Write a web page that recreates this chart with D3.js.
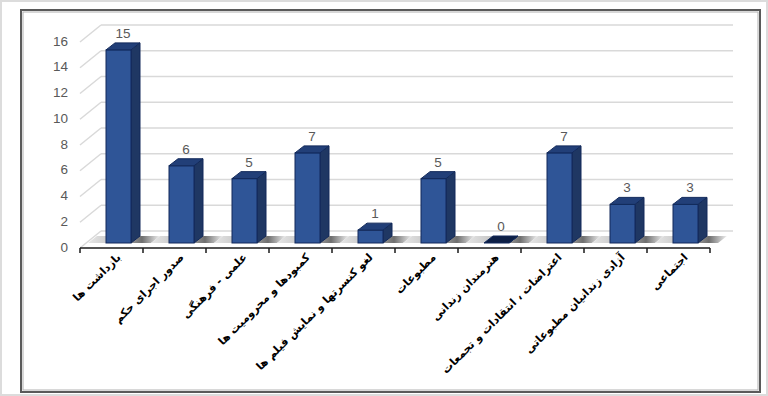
<!DOCTYPE html>
<html>
<head>
<meta charset="utf-8">
<script src="https://cdn.jsdelivr.net/npm/d3@7"></script>
<style>
  body { margin: 0; background: #fff; }
  svg { display: block; }
  .tick-label { font-family: "Liberation Sans", Arial, sans-serif; font-size: 13.5px; fill: #595959; }
  .value-label { font-family: "Liberation Sans", Arial, sans-serif; font-size: 13.5px; fill: #595959; }
  .cat-label { font-family: "DejaVu Sans", Tahoma, sans-serif; font-size: 11px; font-weight: bold; fill: #000; }
</style>
</head>
<body>
<div id="chart"></div>
<script>
var categories = [
  "بازداشت ها",
  "صدور اجرای حکم",
  "علمی - فرهنگی",
  "کمبودها و محرومیت ها",
  "لغو کنسرتها و نمایش فیلم ها",
  "مطبوعات",
  "هنرمندان زندانی",
  "اعتراضات ، انتقادات و تجمعات",
  "آزادی زندانیان مطبوعاتی",
  "اجتماعی"
];
var values = [15, 6, 5, 7, 1, 5, 0, 7, 3, 3];
var yTicks = [0, 2, 4, 6, 8, 10, 12, 14, 16];

var W = 768, H = 396;
// 3d offsets: back wall and bar plane relative to the front axis plane
var wall = {dx: 21, dy: -17};
var barOff = {dx: 0, dy: -5};
var depth = {dx: 9, dy: -7};

var svg = d3.select("#chart")
  .append("svg")
    .attr("width", W)
    .attr("height", H);

var defs = svg.append("defs");
var grad = defs.append("linearGradient")
    .attr("id", "floorShade")
    .attr("x1", "0").attr("x2", "1").attr("y1", "0").attr("y2", "0");
grad.append("stop").attr("offset", "0%").attr("stop-color", "#e6e6e6");
grad.append("stop").attr("offset", "45%").attr("stop-color", "#bdbdbd");
grad.append("stop").attr("offset", "75%").attr("stop-color", "#6e6e6e");
grad.append("stop").attr("offset", "100%").attr("stop-color", "#f0f0f0");

// outer page border and chart frame
svg.append("rect")
    .attr("x", 1).attr("y", 1)
    .attr("width", W - 2).attr("height", H - 2)
    .attr("fill", "#fff")
    .attr("stroke", "#dcdcdc")
    .attr("stroke-width", 2);
svg.append("rect")
    .attr("x", 21).attr("y", 10)
    .attr("width", 739).attr("height", 382)
    .attr("fill", "#fff")
    .attr("stroke", "#5a5a5a")
    .attr("stroke-width", 2);
svg.append("rect")
    .attr("x", 23).attr("y", 12)
    .attr("width", 735).attr("height", 378)
    .attr("fill", "none")
    .attr("stroke", "#b0b0b0")
    .attr("stroke-width", 1);

var x = d3.scaleBand()
    .domain(categories)
    .range([80, 710]);

var y = d3.scaleLinear()
    .domain([0, 16])
    .range([248, 42]);

var xEnd = x.range()[1];

// gridlines on back wall + side diagonals
var grid = svg.append("g");
grid.selectAll("line.back")
  .data(yTicks)
  .enter().append("line")
    .attr("x1", x.range()[0] + wall.dx)
    .attr("x2", xEnd + wall.dx + 2)
    .attr("y1", function(d) { return y(d) + wall.dy; })
    .attr("y2", function(d) { return y(d) + wall.dy; })
    .attr("stroke", "#d9d9d9")
    .attr("stroke-width", 1.5);
grid.selectAll("line.side")
  .data(yTicks)
  .enter().append("line")
    .attr("x1", x.range()[0])
    .attr("x2", x.range()[0] + wall.dx)
    .attr("y1", function(d) { return y(d); })
    .attr("y2", function(d) { return y(d) + wall.dy; })
    .attr("stroke", "#d9d9d9")
    .attr("stroke-width", 1.5);

// floor shadow strip, one piece per band
var bw = x.bandwidth();
var barW = 25, barLeft = 26;
svg.append("g").selectAll("polygon")
  .data(categories)
  .enter().append("polygon")
    .attr("points", function(d) {
      var x0 = x(d) + 8, x1 = x(d) + bw + 8, b = y(0) + barOff.dy;
      return [[x0, b], [x1, b], [x1 + depth.dx, b + depth.dy], [x0 + depth.dx, b + depth.dy]].join(" ");
    })
    .attr("fill", "url(#floorShade)");

// bars
var bars = svg.append("g").selectAll("g")
  .data(values)
  .enter().append("g");

function front(d, i) {
  var x0 = x(categories[i]) + barLeft + barOff.dx;
  return {x0: x0, x1: x0 + barW, top: y(d) + barOff.dy, bot: y(0) + barOff.dy};
}

bars.append("polygon")
    .attr("points", function(d, i) {
      var f = front(d, i);
      return [[f.x1, f.top], [f.x1 + depth.dx, f.top + depth.dy], [f.x1 + depth.dx, f.bot + depth.dy], [f.x1, f.bot]].join(" ");
    })
    .attr("fill", "#1f3763")
    .attr("stroke", "#12295a")
    .attr("stroke-width", 1);

bars.append("rect")
    .attr("x", function(d, i) { return front(d, i).x0; })
    .attr("y", function(d, i) { return front(d, i).top; })
    .attr("width", barW)
    .attr("height", function(d, i) { var f = front(d, i); return f.bot - f.top; })
    .attr("fill", "#2f5597")
    .attr("stroke", "#12295a")
    .attr("stroke-width", 1);

bars.append("polygon")
    .attr("points", function(d, i) {
      var f = front(d, i);
      return [[f.x0, f.top], [f.x1, f.top], [f.x1 + depth.dx, f.top + depth.dy], [f.x0 + depth.dx, f.top + depth.dy]].join(" ");
    })
    .attr("fill", function(d) { return d === 0 ? "#0d1f45" : "#223f78"; })
    .attr("stroke", "#12295a")
    .attr("stroke-width", 1);

// value labels
bars.append("text")
    .attr("class", "value-label")
    .attr("text-anchor", "middle")
    .attr("x", function(d, i) { return front(d, i).x0 + barW / 2 + depth.dx / 2; })
    .attr("y", function(d, i) { return front(d, i).top - 12; })
    .text(function(d) { return d; });

// x axis
var xAxis = svg.append("g");
xAxis.append("line")
    .attr("x1", x.range()[0]).attr("x2", xEnd)
    .attr("y1", y(0)).attr("y2", y(0))
    .attr("stroke", "#1a1a1a")
    .attr("stroke-width", 1.5);
xAxis.selectAll("line.tick")
  .data(categories.concat(["end"]))
  .enter().append("line")
    .attr("x1", function(d, i) { return x.range()[0] + i * bw; })
    .attr("x2", function(d, i) { return x.range()[0] + i * bw; })
    .attr("y1", y(0))
    .attr("y2", y(0) + 5)
    .attr("stroke", "#1a1a1a")
    .attr("stroke-width", 1.5);

xAxis.selectAll("text")
  .data(categories)
  .enter().append("text")
    .attr("class", "cat-label")
    .attr("text-anchor", "end")
    .attr("transform", function(d) {
      return "translate(" + (x(d) + bw / 2 + 10) + "," + (y(0) + 10) + ") rotate(-45)";
    })
    .text(function(d) { return d; });

// y tick labels
svg.append("g").selectAll("text")
  .data(yTicks)
  .enter().append("text")
    .attr("class", "tick-label")
    .attr("text-anchor", "end")
    .attr("dominant-baseline", "middle")
    .attr("x", 68)
    .attr("y", function(d) { return y(d); })
    .text(function(d) { return d; });
</script>
</body>
</html>
